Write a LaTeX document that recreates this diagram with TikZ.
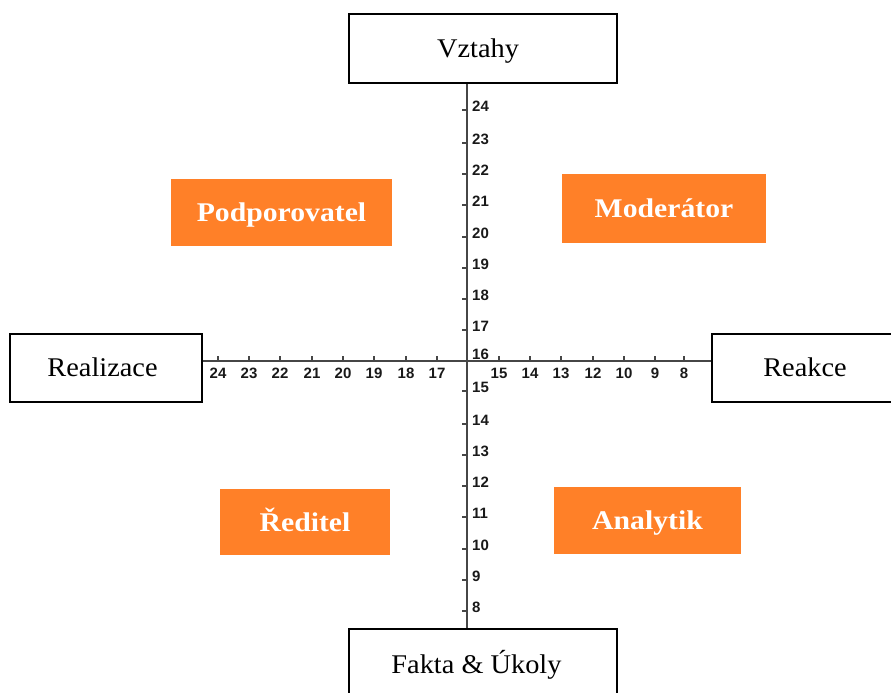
\documentclass[tikz,border=0pt]{standalone}
\usepackage{fontspec}
\setmainfont{Liberation Serif}
\newfontfamily\boxfont[FakeStretch=1.05]{Liberation Serif}
\newfontfamily\lblfont[FakeStretch=1.1]{Liberation Serif}
\newfontfamily\numfont{Liberation Sans}
\definecolor{roleorange}{RGB}{255,128,40}
\definecolor{axisgray}{RGB}{70,70,70}
\tikzset{
  dimbox/.style={draw=black, line width=1.6pt, fill=white, inner sep=0pt},
  dimtext/.style={inner sep=0pt, text height=18pt, text depth=0pt,
    font=\boxfont\fontsize{27}{30}\selectfont},
  rolebox/.style={fill=roleorange, text=white, inner sep=0pt, text height=18pt, text depth=0pt,
    font=\lblfont\bfseries\fontsize{27}{30}\selectfont},
  axisline/.style={draw=axisgray, line width=1.3pt},
  tickline/.style={draw=axisgray, line width=1.1pt},
  numlbl/.style={font=\numfont\bfseries\fontsize{15}{16}\selectfont, inner sep=0pt, text=black!90}
}
\begin{document}
\begin{tikzpicture}[x=1pt,y=-1pt]
\useasboundingbox (0,0) rectangle (891,693);
% dimension boxes
\node[dimbox, minimum width=268pt, minimum height=69pt] (vztahy) at (483,48.5) {};
\node[dimtext] (tvztahy) at (478,48) {Vztahy};
\node[dimbox, minimum width=192pt, minimum height=68pt] (realizace) at (106,368) {};
\node[dimtext] (trealizace) at (102.5,367.5) {Realizace};
\node[dimbox, minimum width=200pt, minimum height=68pt] (reakce) at (812,368) {};
\node[dimtext] (treakce) at (805,367.5) {Reakce};
\node[dimbox, minimum width=268pt, minimum height=80pt] (fakta) at (483,669) {};
\node[dimtext] (tfakta) at (476.5,664) {Fakta \& Úkoly};
% role boxes
\node[rolebox, minimum width=221pt, minimum height=67pt] (podpor) at (281.5,212.5) {Podporovatel};
\node[rolebox, minimum width=204pt, minimum height=69pt] (moder) at (664,208.5) {Moderátor};
\node[rolebox, minimum width=170pt, minimum height=66pt] (reditel) at (305,522) {Ředitel};
\node[rolebox, minimum width=187pt, minimum height=67pt] (analyt) at (647.5,520.5) {Analytik};
% axes
\coordinate (vx) at (467,361);
\draw[axisline] (vx |- vztahy.south) -- (vx |- fakta.north);
\draw[axisline] (realizace.east |- vx) -- (reakce.west |- vx);
% vertical ticks and labels
\foreach \v/\y in {24/106,23/139,22/170,21/201,20/233,19/264,18/295,17/326,15/387,14/420,13/451,12/482,11/513,10/545,9/576,8/607}{
  \draw[tickline] (462,\y+4) -- (467,\y+4);
  \node[numlbl, anchor=west] (v\v) at (472,\y) {\v};
}
\node[numlbl, anchor=west] (v16) at (472,354) {16};
% horizontal ticks and labels
\foreach \v/\x in {24/218,23/249,22/280,21/312,20/343,19/374,18/406,17/437,15/499,14/530,13/561,12/593,10/624,9/655,8/684}{
  \draw[tickline] (\x,356) -- (\x,361);
  \node[numlbl] (h\v) at (\x,373) {\v};
}
\end{tikzpicture}
\end{document}
